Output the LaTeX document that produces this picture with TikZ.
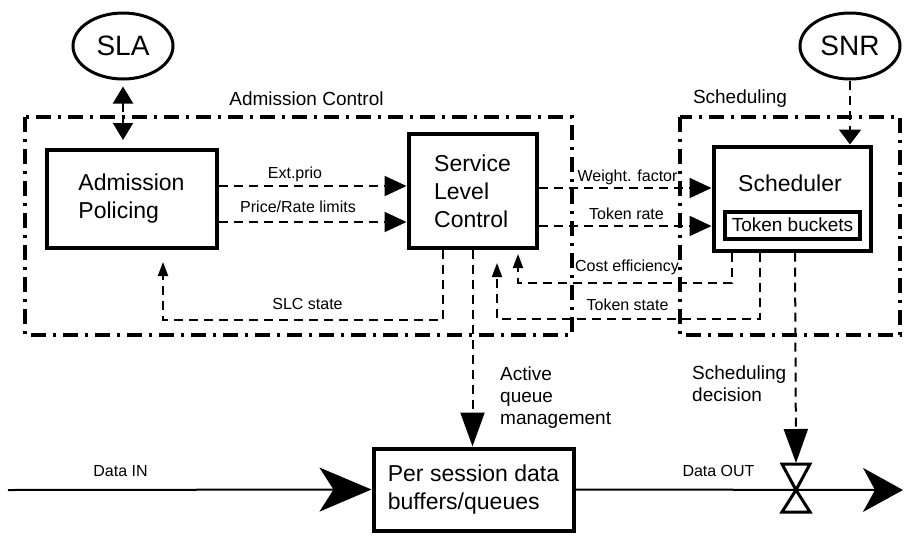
\documentclass[tikz,border=0pt]{standalone}
\usepackage{fontspec}
\setmainfont{Liberation Sans}
\usetikzlibrary{arrows.meta,shapes.geometric}
\tikzset{>={Triangle[length=22pt,width=20pt]}}
\tikzset{
  box/.style={draw,line width=4pt,rectangle,inner sep=0pt,align=left,font=\fontsize{23}{28}\selectfont},
  zone/.style={line width=4pt,dash pattern=on 15pt off 7pt on 3pt off 7pt},
  lbl/.style={font=\fontsize{16}{19}\selectfont,inner sep=0pt},
  tag/.style={font=\fontsize{19}{22}\selectfont,inner sep=0pt,align=left},
  conn/.style={line width=2pt,dash pattern=on 9pt off 6pt},
  smalltip/.style={-{Triangle[length=14pt,width=10pt]}},
  droptip/.style={-{Triangle[length=34pt,width=24pt]}},
  flattip/.style={-{Triangle[length=15pt,width=22pt]}}
}

\begin{document}
\begin{tikzpicture}[x=1pt,y=-1pt]
\useasboundingbox (0,0) rectangle (904,536);

\begin{scope}[every node/.style={box}]
\node[minimum width=170pt,minimum height=98pt] (AP) at (131.5,199) {Admission\\Policing};
\node[minimum width=128pt,minimum height=114pt] (SLC) at (472.5,191) {Service\\Level\\Control};
\node[minimum width=157pt,minimum height=104pt] (Sched) at (792,198.5) {};
\node[minimum width=200pt,minimum height=82pt] (Buf) at (473.5,489.5) {Per session data\\buffers/queues};
\end{scope}
\node[box,minimum width=135pt,minimum height=27pt,font=\fontsize{19}{22}\selectfont] (TB) at (792.5,225) {Token buckets};
\node[font=\fontsize{23}{28}\selectfont] (SchedT) at (790,183) {Scheduler};

\begin{scope}[every node/.style={ellipse,draw,line width=3pt,minimum width=100pt,minimum height=66pt,font=\fontsize{28}{32}\selectfont}]
\node (SLA) at (123,46) {SLA};
\node (SNR) at (850,46) {SNR};
\end{scope}

% heights of the horizontal links
\coordinate (ep) at (0,186);
\coordinate (pr) at (0,222);
\coordinate (wf) at (0,188);
\coordinate (tr) at (0,226);
\coordinate (in) at (8,490);
\coordinate (out) at (903,490);
\coordinate (valve) at (796,490);

% labels
\node[tag] (acl) at (306.5,98.5) {Admission Control};
\node[tag] (scl) at (740,99) {Scheduling};
\node[lbl] (lep) at (295,174) {Ext.prio};
\node[lbl] (lpr) at (298,207) {Price/Rate limits};
\node[lbl] (lslc) at (307.5,304) {SLC state};
\node[lbl] (lwf) at (627.5,177) {Weight. factor};
\node[lbl] (ltr) at (626.5,214) {Token rate};
\node[lbl] (lce) at (627,267) {Cost efficiency};
\node[lbl] (lts) at (627.5,305) {Token state};
\node[lbl] (lin) at (120.5,471) {Data IN};
\node[lbl] (lout) at (718.5,471) {Data OUT};
\node[tag,anchor=north west] (laqm) at (500,366.5) {Active\\queue\\management};
\node[tag,anchor=north west] (lsd) at (692,366) {Scheduling\\decision};

\begin{scope}[every edge/.style={draw=black,conn}]
    \path [->] (AP.east |- ep) edge (SLC.west |- ep);
    \path [->] (AP.east |- pr) edge (SLC.west |- pr);
    \path [->] (SLC.east |- wf) edge (Sched.west |- wf);
    \path [->] (SLC.east |- tr) edge (Sched.west |- tr);

    \path [droptip] (SLC.south) edge (SLC.south |- Buf.north);
    \path [droptip] ([xshift=3pt]Sched.south) edge ([yshift=27pt]valve);
    \path [flattip] (SNR.south) edge (SNR.south |- Sched.north);
    \path [<->,>={Triangle[length=17pt,width=20pt]}] (SLA.south) edge[shorten <=6pt,shorten >=8pt] (SLA.south |- AP.north);
\end{scope}

\draw[conn,smalltip,shorten >=12pt] ([xshift=-29.5pt]SLC.south) -- ++(0,70) -| ([xshift=31.5pt]AP.south);
\draw[conn,smalltip,shorten >=4pt] ([xshift=-60pt]Sched.south) -- ++(0,30) -| ([xshift=45.5pt]SLC.south);
\draw[conn,smalltip,shorten >=13pt] ([xshift=-32pt]Sched.south) -- ++(0,66) -| ([xshift=24.5pt]SLC.south);

% data path
\draw[line width=2pt,-{Stealth[length=52pt,width=44pt,inset=14pt]}] (in) -- (Buf.west);
\draw[line width=2pt,-{Stealth[length=40pt,width=44pt,inset=12pt]}] (Buf.east) -- (out);
\draw[line width=3pt,fill=white] (valve) -- ++(-14,-26) -- ++(28,0) -- cycle
    (valve) -- ++(-14,22) -- ++(28,0) -- cycle;

% control regions
\draw[zone] (25,117) rectangle (572,335);
\draw[zone] (680,117) rectangle (900,335);
\end{tikzpicture}
\end{document}
